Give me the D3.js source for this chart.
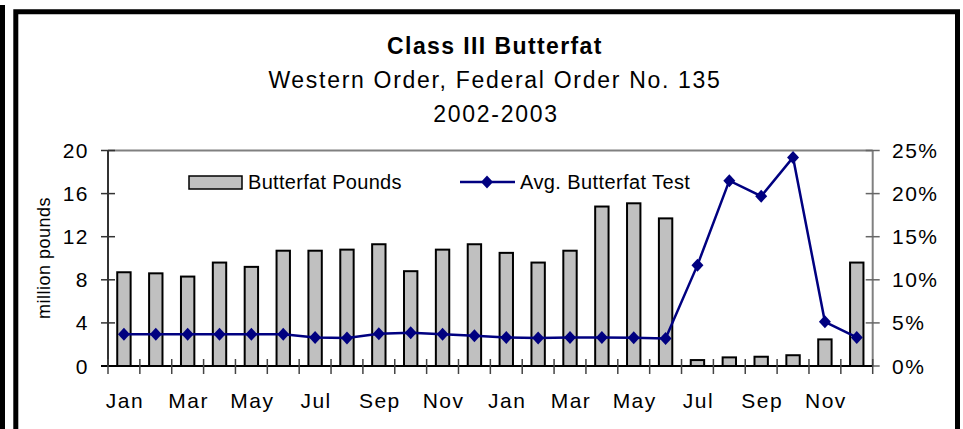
<!DOCTYPE html>
<html><head><meta charset="utf-8">
<script src="https://cdn.jsdelivr.net/npm/d3@7"></script>
<style>body{margin:0;background:#fff}svg{display:block}text{font-family:Arial,"Liberation Sans",sans-serif;fill:#000}</style>
</head><body>
<script>
const months = ["Jan","Feb","Mar","Apr","May","Jun","Jul","Aug","Sep","Oct","Nov","Dec"];
const years = [2002, 2003];
const pounds = [8.7,8.6,8.3,9.6,9.2,10.7,10.7,10.8,11.3,8.8,10.8,11.3,
                10.5,9.6,10.7,14.8,15.1,13.7,0.55,0.8,0.86,1.0,2.47,9.6];
const testPct = [3.67,3.67,3.67,3.67,3.67,3.67,3.32,3.24,3.74,3.86,3.67,3.51,
                 3.32,3.24,3.32,3.32,3.28,3.2,11.7,21.5,19.7,24.2,5.13,3.32];
const leftTicks = [0,4,8,12,16,20];
const rightTicks = [0,5,10,15,20,25];
const titleLines = ["Class III Butterfat","Western Order, Federal Order No. 135","2002-2003"];
const seriesNames = ["Butterfat Pounds","Avg. Butterfat Test"];
const yTitle = "million pounds";

const cats = [];
years.forEach(y => months.forEach(m => cats.push(m + " " + y)));
const data = cats.map((c,i) => ({cat:c, month:c.split(" ")[0], idx:i, pounds:pounds[i], test:testPct[i]}));

const W = 963, H = 429;
const svg = d3.select("body").append("svg").attr("width",W).attr("height",H);
svg.append("rect").attr("width",W).attr("height",H).attr("fill","#fff");

// outer frame
svg.append("rect").attr("x",0).attr("y",5).attr("width",5).attr("height",H).attr("fill","#000");
svg.append("path").attr("d",`M15.8,${H+5}V11.7H957.5V${H+5}`).attr("fill","none").attr("stroke","#000").attr("stroke-width",5);

const x0 = 108, x1 = 872.7, yTop = 150.5, yBot = 366;
const x = d3.scaleBand().domain(cats).range([x0,x1]).paddingInner(0.58).paddingOuter(0.29);
const yL = d3.scaleLinear().domain([0,20]).range([yBot,yTop]);
const yR = d3.scaleLinear().domain([0,25]).range([yBot,yTop]);
const step = x.step();

// titles
svg.append("text").attr("x",495).attr("y",54).attr("text-anchor","middle")
  .style("font-size","23px").style("font-weight","bold").style("letter-spacing","1.4px").text(titleLines[0]);
svg.append("text").attr("x",495).attr("y",88).attr("text-anchor","middle")
  .style("font-size","23px").style("letter-spacing","1.7px").text(titleLines[1]);
svg.append("text").attr("x",496).attr("y",122).attr("text-anchor","middle")
  .style("font-size","23px").style("letter-spacing","1.7px").text(titleLines[2]);

// plot border top & right axis
svg.append("line").attr("x1",x0).attr("x2",x1).attr("y1",yTop).attr("y2",yTop).attr("stroke","#808080").attr("stroke-width",2);
svg.append("line").attr("x1",x1).attr("x2",x1).attr("y1",yTop).attr("y2",yBot).attr("stroke","#808080").attr("stroke-width",2);

// bars
svg.append("g").selectAll("rect").data(data).join("rect")
  .attr("x",d=>x(d.cat)).attr("width",x.bandwidth())
  .attr("y",d=>yL(d.pounds)).attr("height",d=>yBot-yL(d.pounds))
  .attr("fill","#c0c0c0").attr("stroke","#000").attr("stroke-width",2);

// left axis
const gL = svg.append("g");
gL.append("line").attr("x1",x0).attr("x2",x0).attr("y1",yTop).attr("y2",yBot).attr("stroke","#333").attr("stroke-width",2);
gL.selectAll("line.t").data(leftTicks).join("line").attr("class","t")
  .attr("x1",x0-7).attr("x2",x0+7).attr("y1",d=>yL(d)).attr("y2",d=>yL(d)).attr("stroke","#333").attr("stroke-width",1.5);
gL.selectAll("text").data(leftTicks).join("text")
  .attr("x",89).attr("y",d=>yL(d)+7.5).attr("text-anchor","end")
  .style("font-size","21px").style("letter-spacing","1.5px").text(d=>d);

// right axis
const gR = svg.append("g");
gR.selectAll("line").data(rightTicks).join("line")
  .attr("x1",x1-7).attr("x2",x1+7).attr("y1",d=>yR(d)).attr("y2",d=>yR(d)).attr("stroke","#666").attr("stroke-width",1.5);
gR.selectAll("text").data(rightTicks).join("text")
  .attr("x",892).attr("y",d=>yR(d)+7.5)
  .style("font-size","21px").style("letter-spacing","1.5px").text(d=>d+"%");

// x axis
const gX = svg.append("g");
gX.append("line").attr("x1",x0-7).attr("x2",x1).attr("y1",yBot).attr("y2",yBot).attr("stroke","#000").attr("stroke-width",2);
const bounds = d3.range(cats.length+1);
gX.selectAll("line.t").data(bounds).join("line").attr("class","t")
  .attr("x1",i=>x0+i*step).attr("x2",i=>x0+i*step).attr("y1",yBot-7).attr("y2",yBot+8)
  .attr("stroke","#444").attr("stroke-width",1.5);
gX.selectAll("text").data(data.filter((d,i)=>i%2===0)).join("text")
  .attr("x",d=>x(d.cat)+x.bandwidth()/2+1).attr("y",408).attr("text-anchor","middle")
  .style("font-size","21px").style("letter-spacing","1.5px").text(d=>d.month);

// y title
svg.append("text").attr("transform","translate(50,258) rotate(-90)").attr("text-anchor","middle")
  .style("font-size","18px").style("letter-spacing","0.5px").text(yTitle);

// line
const cx = d => x(d.cat)+x.bandwidth()/2;
const diamond = "M0,-6.5L6,0L0,6.5L-6,0Z";
svg.append("path").datum(data)
  .attr("d",d3.line().x(cx).y(d=>yR(d.test)))
  .attr("fill","none").attr("stroke","#000080").attr("stroke-width",2.5);
svg.append("g").selectAll("path").data(data).join("path")
  .attr("transform",d=>`translate(${cx(d)},${yR(d.test)})`).attr("d",diamond).attr("fill","#000080");

// legend
const lg = svg.append("g");
lg.append("rect").attr("x",189).attr("y",176).attr("width",53).attr("height",13)
  .attr("fill","#c0c0c0").attr("stroke","#000").attr("stroke-width",1.5);
lg.append("text").attr("x",248).attr("y",189).style("font-size","20px").style("letter-spacing","0.3px").text(seriesNames[0]);
lg.append("line").attr("x1",460).attr("x2",515).attr("y1",182).attr("y2",182).attr("stroke","#000080").attr("stroke-width",2.5);
lg.append("path").attr("transform","translate(487,182)").attr("d",diamond).attr("fill","#000080");
lg.append("text").attr("x",520).attr("y",189).style("font-size","20px").style("letter-spacing","0.4px").text(seriesNames[1]);
</script>
</body></html>
